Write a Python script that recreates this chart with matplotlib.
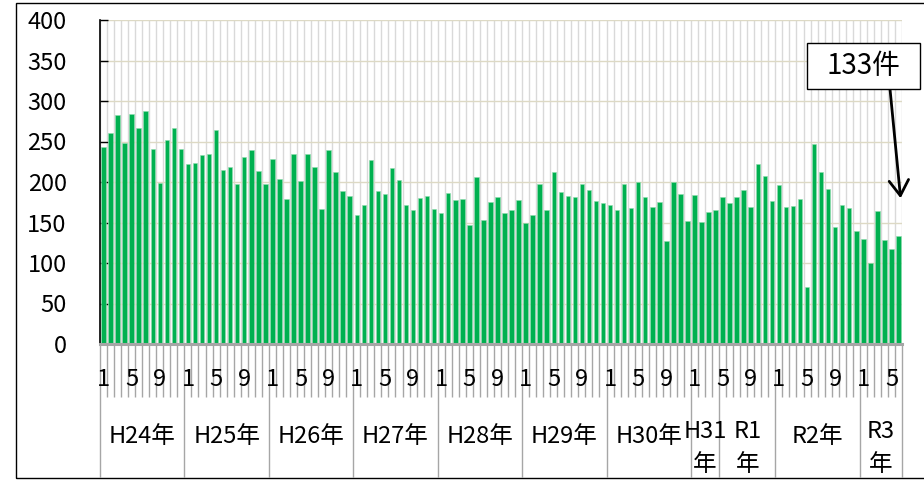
"""
Monthly case counts H24 Jan - R3 Jun, bar chart with two-level month / year axis.
"""
import numpy as np
import matplotlib
matplotlib.use("Agg")
import matplotlib.pyplot as plt
from matplotlib.patches import Rectangle

W, H, DPI = 924, 480, 100
FONT = ["Noto Sans CJK JP", "DejaVu Sans"]
FS = 17

# monthly counts, one list per year label
H24 = [243, 261, 283, 248, 284, 267, 288, 241, 199, 252, 267, 241]
H25 = [222, 224, 233, 235, 264, 215, 219, 198, 231, 239, 214, 198]
H26 = [228, 204, 179, 235, 201, 234, 218, 167, 239, 212, 189, 183]
H27 = [159, 172, 227, 189, 185, 217, 203, 172, 166, 180, 183, 167]
H28 = [162, 186, 178, 179, 147, 206, 153, 175, 181, 162, 165, 178]
H29 = [150, 159, 197, 166, 212, 188, 183, 181, 197, 190, 176, 174]
H30 = [172, 165, 198, 168, 200, 181, 169, 175, 127, 200, 185, 152]
H31 = [184, 151, 163, 166]
R1 = [181, 174, 182, 190, 169, 222, 207, 176]
R2 = [196, 169, 170, 179, 70, 247, 212, 191, 145, 172, 168, 139]
R3 = [130, 100, 164, 128, 117, 133]

YEARS = [("H24年", H24, 1), ("H25年", H25, 1), ("H26年", H26, 1), ("H27年", H27, 1),
         ("H28年", H28, 1), ("H29年", H29, 1), ("H30年", H30, 1), ("H31\n年", H31, 1),
         ("R1\n年", R1, 5), ("R2年", R2, 1), ("R3\n年", R3, 1)]
LAST_LABEL = "133件"
YTICKS = [0, 50, 100, 150, 200, 250, 300, 350, 400]

plt.rcParams["font.family"] = FONT

values, months, bounds = [], [], [0]
for name, vals, start in YEARS:
    values += vals
    months += list(range(start, start + len(vals)))
    bounds.append(len(values))
x = np.arange(len(values))

fig = plt.figure(figsize=(W / DPI, H / DPI), dpi=DPI)
ax = fig.add_axes([100 / W, 1 - 344 / H, 802 / W, 324 / H])

ax.bar(x, values, width=0.64, color="#00b050", edgecolor="#8fdcae", linewidth=0.4, zorder=2)
ax.set_xlim(-0.5, len(values) - 0.5)
ax.set_ylim(0, 400)
ax.set_yticks(YTICKS)
ax.tick_params(axis="y", direction="in", length=6, width=1, color="black",
               labelsize=FS, pad=24)

# category grid + ticks below the axis: month boundaries short, year boundaries long
ax.set_xticks(np.array(bounds) - 0.5)
ax.set_xticks(np.arange(len(values) + 1) - 0.5, minor=True)
ax.tick_params(axis="x", which="major", direction="out", length=96, width=1,
               color="#a6a6a6", labelbottom=False)
ax.tick_params(axis="x", which="minor", direction="out", length=38, width=1,
               color="#a6a6a6", labelbottom=False)
ax.grid(axis="x", which="both", color="#d9d9d9", linewidth=1, zorder=0)
ax.grid(axis="y", which="major", color="#ddd9c4", linewidth=1, zorder=0)
ax.set_axisbelow(True)

for s in ("top", "right"):
    ax.spines[s].set_visible(False)
ax.spines["left"].set_color("black")
ax.spines["left"].set_linewidth(1.2)
ax.spines["bottom"].set_color("#a6a6a6")
ax.spines["bottom"].set_linewidth(2.2)

tr = ax.get_xaxis_transform()
for i, m in enumerate(months):
    if i % 4 == 0:
        ax.text(i, -0.111, str(m), transform=tr, ha="center", va="center", fontsize=FS)
for (name, vals, start), b0, b1 in zip(YEARS, bounds[:-1], bounds[1:]):
    xc = (b0 + b1 - 1) / 2
    if "\n" in name:
        top, bottom = name.split("\n")
        ax.text(xc, -0.269, top, transform=tr, ha="center", va="center", fontsize=FS)
        ax.text(xc, -0.373, bottom, transform=tr, ha="center", va="center", fontsize=FS)
    else:
        ax.text(xc, -0.287, name, transform=tr, ha="center", va="center", fontsize=FS)

# callout for the latest month
fig.add_artist(Rectangle((807 / W, 1 - 89 / H), 113 / W, 46 / H, transform=fig.transFigure,
                         facecolor="white", edgecolor="black", linewidth=1, zorder=5))
fig.text(863 / W, 1 - 66 / H, LAST_LABEL, ha="center", va="center", fontsize=20, zorder=6)
ax.annotate("", xy=(x[-1] + 0.3, 180), xycoords="data",
            xytext=(890 / W, 1 - 89 / H), textcoords="figure fraction",
            arrowprops=dict(arrowstyle="->,head_length=0.55,head_width=0.35",
                            color="black", lw=2, mutation_scale=20,
                            shrinkA=0, shrinkB=0),
            annotation_clip=False)

# outer chart frame (runs off the right edge like the source)
fig.add_artist(Rectangle((16 / W, 2 / H), 1.0, 475 / H, transform=fig.transFigure,
                         facecolor="none", edgecolor="black", linewidth=1, zorder=4))

fig.savefig("out.png", dpi=DPI)
